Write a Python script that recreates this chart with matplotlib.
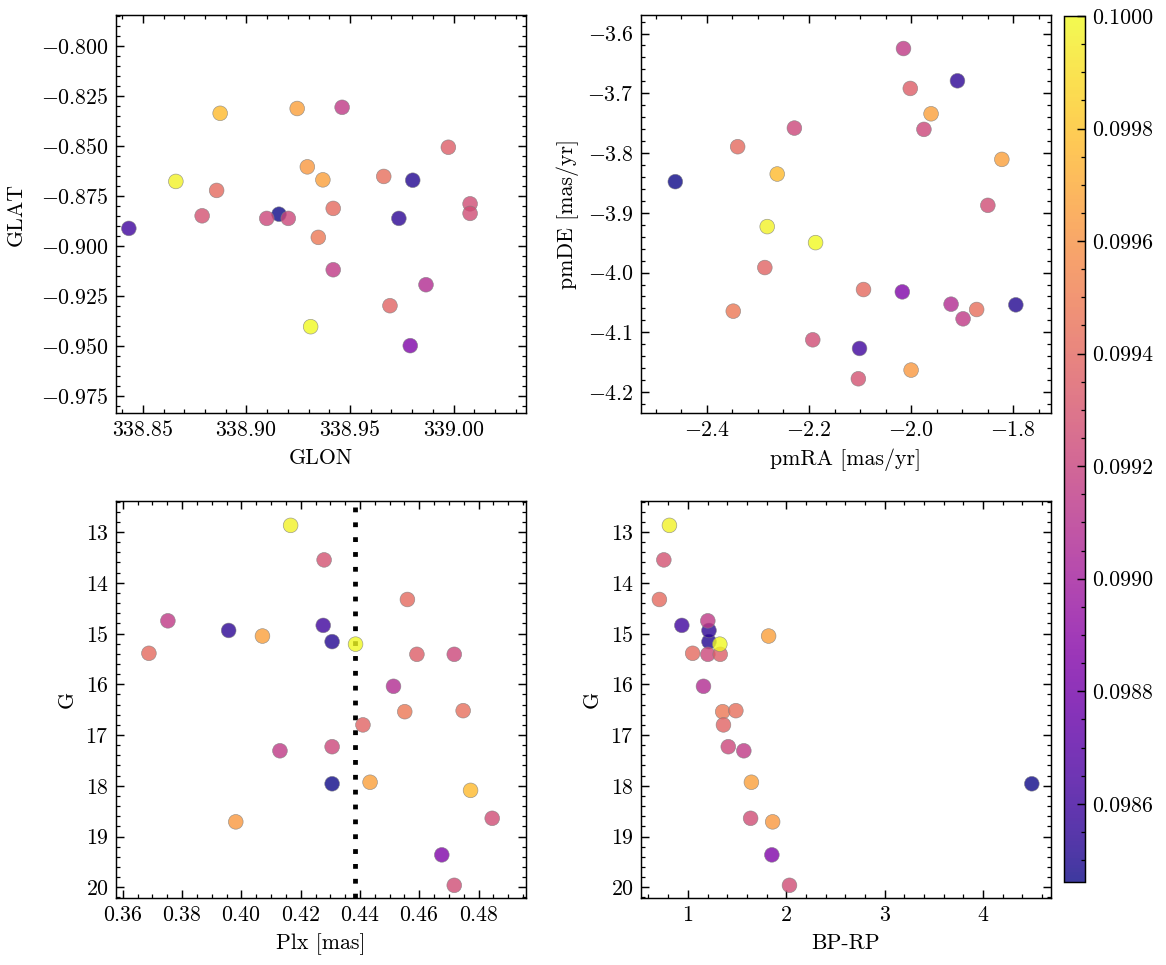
import numpy as np
import matplotlib
matplotlib.use("Agg")
import matplotlib.pyplot as plt
from matplotlib.ticker import FormatStrFormatter, MultipleLocator, AutoMinorLocator

plt.rcParams['font.family'] = 'serif'
plt.rcParams['font.serif'] = ['cmr10']
plt.rcParams['mathtext.fontset'] = 'cm'
plt.rcParams['axes.formatter.use_mathtext'] = True
plt.rcParams['font.size'] = 10.5
plt.rcParams['axes.linewidth'] = 0.7
for ax_ in ('xtick', 'ytick'):
    plt.rcParams[f'{ax_}.direction'] = 'in'
    plt.rcParams[f'{ax_}.major.size'] = 3.8
    plt.rcParams[f'{ax_}.minor.size'] = 1.9
    plt.rcParams[f'{ax_}.major.width'] = 0.7
    plt.rcParams[f'{ax_}.minor.width'] = 0.6
    plt.rcParams[f'{ax_}.minor.visible'] = True
plt.rcParams['xtick.top'] = True
plt.rcParams['ytick.right'] = True

# Star data (25 stars)
glon = [338.9157, 338.9803, 338.9736, 338.8432, 338.9791,
        338.9867, 338.9462, 338.9419, 338.9098, 338.9202, 339.0080, 339.0080, 338.8786,
        338.9347, 338.8856, 338.9419, 338.9663, 338.9693, 338.9975,
        338.8873, 338.9245, 338.9369, 338.9294,
        338.8659, 338.9310]
glat = [-0.8842, -0.8672, -0.8863, -0.8913, -0.9500,
        -0.9195, -0.8307, -0.9120, -0.8863, -0.8863, -0.8790, -0.8838, -0.8850,
        -0.8958, -0.8723, -0.8813, -0.8653, -0.9300, -0.8507,
        -0.8337, -0.8313, -0.8670, -0.8605,
        -0.8678, -0.9405]
pmra = [-2.4618, -1.7949, -1.9092, -2.1010, -2.0172,
        -1.9217, -2.0149, -1.8982, -2.2286, -1.9749, -1.8497, -2.1926, -2.1033,
        -2.3483, -2.3397, -2.0932, -1.8716, -2.2865, -2.0016,
        -2.2622, -1.9609, -1.8223, -2.0000,
        -2.2818, -2.1871]
pmde = [-3.8479, -4.0540, -3.6791, -4.1270, -4.0323,
        -4.0529, -3.6251, -4.0774, -3.7582, -3.7604, -3.8875, -4.1125, -4.1777,
        -4.0646, -3.7894, -4.0284, -4.0618, -3.9916, -3.6919,
        -3.8351, -3.7343, -3.8106, -4.1632,
        -3.9231, -3.9499]
plx = [0.4306, 0.4306, 0.3957, 0.4276, 0.4676,
       0.4513, 0.3752, 0.4130, 0.4718, 0.4306, 0.4846, 0.4718, 0.4279,
       0.4551, 0.3688, 0.4560, 0.4748, 0.4410, 0.4592,
       0.4773, 0.4071, 0.4434, 0.3981,
       0.4166, 0.4385]
gmag = [17.96, 15.16, 14.94, 14.84, 19.36,
        16.04, 14.75, 17.31, 15.41, 17.23, 18.64, 19.96, 13.55,
        16.54, 15.39, 14.33, 16.52, 16.80, 15.41,
        18.09, 15.05, 17.93, 18.71,
        12.87, 15.21]
bp_rp = [4.496, 1.215, 1.215, 0.939, 1.854,
         1.159, 1.203, 1.569, 1.203, 1.411, 1.638, 2.033, 0.756,
         1.354, 1.049, 0.711, 1.488, 1.362, 1.329,
         np.nan, 1.821, 1.646, 1.862,
         0.813, 1.325]
prob = [0.098461, 0.09851, 0.09854, 0.09861, 0.09885,
        0.09908, 0.09915, 0.09915, 0.09923, 0.09923, 0.09926, 0.09926, 0.09928,
        0.09948, 0.09941, 0.09941, 0.09943, 0.09938, 0.09935,
        0.09977, 0.09966, 0.09966, 0.09963,
        0.09997, 0.10000]
plx_ref = 0.4382

cbar_ticks = [0.0986, 0.0988, 0.0990, 0.0992, 0.0994, 0.0996, 0.0998, 0.1000]

W, H, DPI = 1166, 965, 150
fig = plt.figure(figsize=(W / DPI, H / DPI), dpi=DPI)

def axpos(l, t, r, b):
    return [l / W, 1 - b / H, (r - l) / W, (b - t) / H]

ax1 = fig.add_axes(axpos(116, 15, 526, 413))
ax2 = fig.add_axes(axpos(641, 15, 1051, 413))
ax3 = fig.add_axes(axpos(116, 501, 526, 898))
ax4 = fig.add_axes(axpos(641, 501, 1051, 898))
cax = fig.add_axes(axpos(1064, 16, 1085, 882))

vmin, vmax = min(prob), max(prob)
kw = dict(c=prob, cmap='plasma', vmin=vmin, vmax=vmax, s=50, alpha=0.8,
          edgecolors='grey', linewidths=0.3, zorder=3)

sc = ax1.scatter(glon, glat, **kw)
ax1.set_xlim(338.837, 339.035)
ax1.set_ylim(-0.9837, -0.7845)
ax1.set_xlabel('GLON')
ax1.set_ylabel('GLAT', labelpad=7)
ax1.xaxis.set_major_locator(MultipleLocator(0.05))
ax1.yaxis.set_major_locator(MultipleLocator(0.025))

ax2.scatter(pmra, pmde, **kw)
ax2.set_xlim(-2.529, -1.726)
ax2.set_ylim(-4.235, -3.569)
ax2.set_xlabel('pmRA [mas/yr]')
ax2.set_ylabel('pmDE [mas/yr]')
ax2.xaxis.set_major_locator(MultipleLocator(0.2))
ax2.yaxis.set_major_locator(MultipleLocator(0.1))

ax3.scatter(plx, gmag, **kw)
ax3.axvline(plx_ref, color='black', lw=2.3, linestyle=(0, (1, 2.1)), zorder=2)
ax3.set_xlim(0.3577, 0.4960)
ax3.set_ylim(20.21, 12.39)
ax3.set_xlabel('Plx [mas]')
ax3.set_ylabel('G')
ax3.xaxis.set_major_locator(MultipleLocator(0.02))
ax3.yaxis.set_major_locator(MultipleLocator(1))

ax4.scatter(bp_rp, gmag, **kw)
ax4.set_xlim(0.524, 4.691)
ax4.set_ylim(20.21, 12.39)
ax4.set_xlabel('BP-RP')
ax4.set_ylabel('G')
ax4.xaxis.set_major_locator(MultipleLocator(1))
ax4.yaxis.set_major_locator(MultipleLocator(1))

for a in (ax1, ax2, ax3, ax4):
    a.xaxis.set_minor_locator(AutoMinorLocator())
    a.yaxis.set_minor_locator(AutoMinorLocator())

cb = fig.colorbar(sc, cax=cax)
cb.solids.set_alpha(0.8)
cb.set_ticks(cbar_ticks)
cb.ax.yaxis.set_major_formatter(FormatStrFormatter('%.4f'))
cb.ax.yaxis.set_minor_locator(MultipleLocator(0.00005))
cb.ax.tick_params(which='both', direction='in', right=True, left=False)
cb.outline.set_linewidth(0.7)

fig.savefig('out.png', dpi=DPI)
